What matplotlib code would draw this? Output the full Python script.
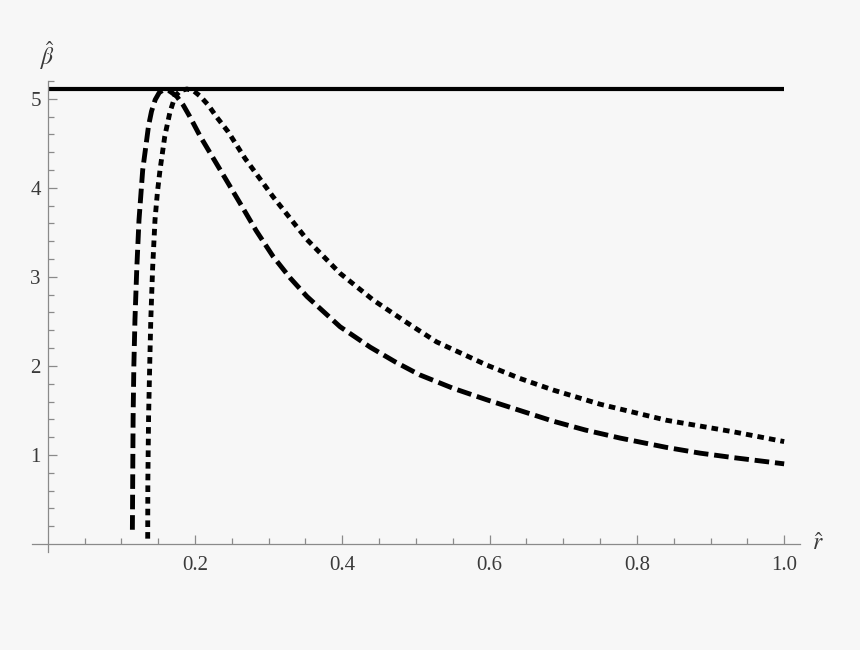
import matplotlib
matplotlib.use("Agg")
import matplotlib.pyplot as plt
from matplotlib.ticker import FixedLocator

# values
r_dashed = [0.115, 0.1155, 0.116, 0.117, 0.1185, 0.121, 0.124, 0.129, 0.133, 0.137,
            0.141, 0.146, 0.1515, 0.157, 0.165, 0.175, 0.184, 0.193, 0.207, 0.225,
            0.238, 0.261, 0.283, 0.306, 0.329, 0.352, 0.397, 0.438, 0.473, 0.505,
            0.55, 0.596, 0.641, 0.686, 0.73, 0.777, 0.84, 0.886, 0.931, 1.0]
beta_dashed = [0.16, 0.8, 1.43, 2.0, 2.52, 3.1, 3.64, 4.2, 4.45, 4.7,
               4.86, 4.99, 5.07, 5.10, 5.09, 5.03, 4.93, 4.80, 4.58, 4.33,
               4.15, 3.83, 3.52, 3.23, 2.99, 2.78, 2.44, 2.21, 2.04, 1.90,
               1.75, 1.62, 1.50, 1.38, 1.28, 1.19, 1.085, 1.02, 0.97, 0.90]

r_dotted = [0.1358, 0.136, 0.137, 0.1385, 0.140, 0.1425, 0.1457, 0.149, 0.1525, 0.159,
            0.166, 0.173, 0.18, 0.189, 0.198, 0.207, 0.218, 0.229, 0.245, 0.268,
            0.306, 0.352, 0.397, 0.442, 0.487, 0.528, 0.596, 0.641, 0.686, 0.750,
            0.840, 0.931, 1.0]
beta_dotted = [0.06, 0.7, 1.43, 2.0, 2.52, 3.1, 3.64, 3.95, 4.20, 4.58,
               4.85, 5.03, 5.09, 5.11, 5.09, 5.03, 4.93, 4.80, 4.63, 4.33,
               3.90, 3.42, 3.04, 2.74, 2.49, 2.27, 2.01, 1.86, 1.73, 1.57,
               1.39, 1.26, 1.15]

beta_max = 5.11
r_range = [0.0, 1.0]

x_ticks = [0.2, 0.4, 0.6, 0.8, 1.0]
x_ticklabels = ["0.2", "0.4", "0.6", "0.8", "1.0"]
y_ticks = [1, 2, 3, 4, 5]
y_ticklabels = ["1", "2", "3", "4", "5"]


def setup_axes(fig):
    ax = fig.add_axes([32 / 860, 1 - 552 / 650, 768 / 860, 471 / 650])
    ax.set_facecolor("#f7f7f7")
    ax.set_xlim(-0.0213, 1.0215)
    ax.set_ylim(-0.09, 5.2)

    # axes cross at the origin, mathematica style
    for side in ["top", "right"]:
        ax.spines[side].set_visible(False)
    ax.spines["left"].set_position(("data", 0))
    ax.spines["bottom"].set_position(("data", 0))
    for side in ["left", "bottom"]:
        ax.spines[side].set_color("#8a8a8a")
        ax.spines[side].set_linewidth(0.9)

    ax.set_xticks(x_ticks)
    ax.set_xticklabels(x_ticklabels)
    ax.set_yticks(y_ticks)
    ax.set_yticklabels(y_ticklabels)
    ax.xaxis.set_minor_locator(FixedLocator([0.05 * i for i in range(1, 21)]))
    ax.yaxis.set_minor_locator(FixedLocator([0.2 * i for i in range(1, 27)]))

    ax.tick_params(which="both", direction="in", color="#8a8a8a", width=0.9,
                   labelsize=15, labelcolor="#3a3a3a")
    ax.tick_params(which="major", length=6.5)
    ax.tick_params(which="minor", length=4.2)
    ax.tick_params(axis="x", which="major", pad=9)
    ax.tick_params(axis="y", which="major", pad=5)

    ax.text(1.046, 0, r"$\hat{r}$", fontsize=17, color="#3a3a3a",
            ha="center", va="center")
    ax.text(0, 5.49, r"$\hat{\beta}$", fontsize=17, color="#3a3a3a",
            ha="center", va="center")
    return ax


def main():
    plt.rcParams["font.family"] = ["Liberation Serif", "DejaVu Serif"]
    plt.rcParams["mathtext.fontset"] = "stix"

    fig = plt.figure(figsize=(8.6, 6.5), dpi=100)
    fig.patch.set_facecolor("#f7f7f7")
    ax = setup_axes(fig)

    ax.plot(r_range, [beta_max, beta_max], color="black", lw=3.0,
            solid_capstyle="butt", clip_on=False)
    ax.plot(r_dashed, beta_dashed, color="black", lw=3.5,
            dashes=(3.0, 1.2), dash_capstyle="butt", clip_on=False)
    ax.plot(r_dotted, beta_dotted, color="black", lw=3.5,
            dashes=(1.35, 1.05), dash_capstyle="butt", clip_on=False)

    fig.savefig("out.png", dpi=100, facecolor=fig.get_facecolor())


if __name__ == "__main__":
    main()
